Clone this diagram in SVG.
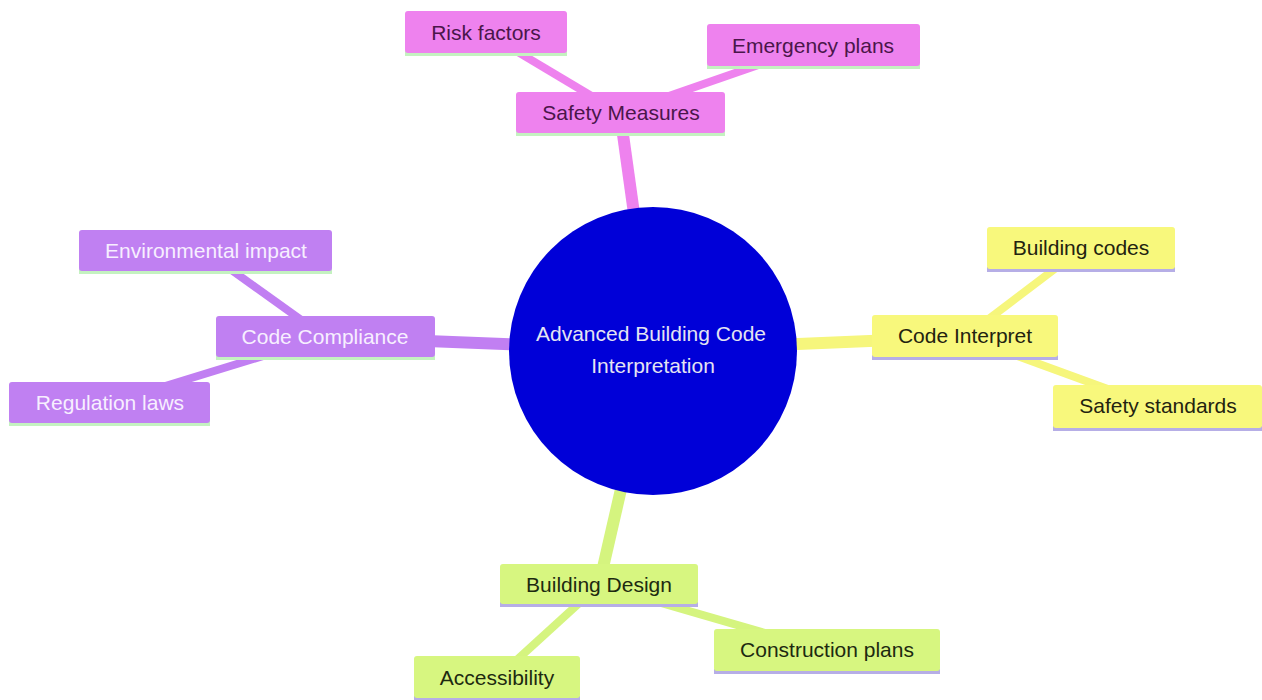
<svg xmlns="http://www.w3.org/2000/svg" width="1262" height="700" viewBox="0 0 1262 700">
<style>
text{font-family:"Liberation Sans",Arial,sans-serif;font-size:21px;text-anchor:middle}
.e{stroke-linecap:butt;fill:none}
.main{stroke-width:12}
.leaf{stroke-width:8}
.pk{stroke:#ee82ee}
.pu{stroke:#c17ff2}
.ye{stroke:#f6f67c}
.gr{stroke:#d5f47f}
.npk rect.b{fill:#ee82ee}
.npu rect.b{fill:#c080f2}
.nye rect.b{fill:#f8f87c}
.ngr rect.b{fill:#d7f680}
.npk text{fill:#4a164a}
.npu text{fill:#f7efff}
.nye text{fill:#232310}
.ngr text{fill:#1d2a10}
.lg{fill:#c4f2c0}
.lv{fill:#b6aee6}
</style>
<g id="connectors">
<line class="e main pk" x1="653" y1="350" x2="620" y2="113"/>
<line class="e main pu" x1="653" y1="350" x2="325" y2="337"/>
<line class="e main ye" x1="653" y1="350" x2="965" y2="337"/>
<line class="e main gr" x1="653" y1="350" x2="599" y2="585"/>
<line class="e leaf pk" x1="620" y1="113" x2="486" y2="33"/>
<line class="e leaf pk" x1="620" y1="113" x2="813" y2="46"/>
<line class="e leaf pu" x1="325" y1="337" x2="205" y2="251"/>
<line class="e leaf pu" x1="325" y1="337" x2="110" y2="403"/>
<line class="e leaf ye" x1="965" y1="337" x2="1081" y2="249"/>
<line class="e leaf ye" x1="965" y1="337" x2="1157" y2="407"/>
<line class="e leaf gr" x1="599" y1="585" x2="497" y2="678"/>
<line class="e leaf gr" x1="599" y1="585" x2="827" y2="651"/>
</g>
<g id="root">
<circle cx="653" cy="351" r="144" fill="#0000d8"/>
<text x="651" y="341" fill="#e4e4f2">Advanced Building Code</text>
<text x="653" y="373" fill="#e4e4f2">Interpretation</text>
</g>
<g id="safety-measures" class="npk">
<rect class="lg" x="516" y="131" width="209" height="5"/>
<rect class="b" x="516" y="92" width="209" height="41" rx="3"/>
<text x="621" y="120">Safety Measures</text>
</g>
<g id="risk-factors" class="npk">
<rect class="lg" x="405" y="51" width="162" height="5"/>
<rect class="b" x="405" y="11" width="162" height="42" rx="3"/>
<text x="486" y="40">Risk factors</text>
</g>
<g id="emergency-plans" class="npk">
<rect class="lg" x="707" y="64" width="213" height="5"/>
<rect class="b" x="707" y="24" width="213" height="42" rx="3"/>
<text x="813" y="53">Emergency plans</text>
</g>
<g id="code-compliance" class="npu">
<rect class="lg" x="216" y="355" width="219" height="5"/>
<rect class="b" x="216" y="316" width="219" height="41" rx="3"/>
<text x="325" y="344">Code Compliance</text>
</g>
<g id="environmental-impact" class="npu">
<rect class="lg" x="79" y="269" width="253" height="5"/>
<rect class="b" x="79" y="230" width="253" height="41" rx="3"/>
<text x="206" y="258">Environmental impact</text>
</g>
<g id="regulation-laws" class="npu">
<rect class="lg" x="9" y="421" width="201" height="5"/>
<rect class="b" x="9" y="382" width="201" height="41" rx="3"/>
<text x="110" y="410">Regulation laws</text>
</g>
<g id="code-interpret" class="nye">
<rect class="lv" x="872" y="355" width="186" height="5"/>
<rect class="b" x="872" y="315" width="186" height="42" rx="3"/>
<text x="965" y="343">Code Interpret</text>
</g>
<g id="building-codes" class="nye">
<rect class="lv" x="987" y="267" width="188" height="5"/>
<rect class="b" x="987" y="227" width="188" height="42" rx="3"/>
<text x="1081" y="255">Building codes</text>
</g>
<g id="safety-standards" class="nye">
<rect class="lv" x="1053" y="426" width="209" height="5"/>
<rect class="b" x="1053" y="385" width="209" height="43" rx="3"/>
<text x="1158" y="413">Safety standards</text>
</g>
<g id="building-design" class="ngr">
<rect class="lv" x="500" y="602" width="198" height="5"/>
<rect class="b" x="500" y="564" width="198" height="40" rx="3"/>
<text x="599" y="592">Building Design</text>
</g>
<g id="construction-plans" class="ngr">
<rect class="lv" x="714" y="669" width="226" height="5"/>
<rect class="b" x="714" y="629" width="226" height="42" rx="3"/>
<text x="827" y="657">Construction plans</text>
</g>
<g id="accessibility" class="ngr">
<rect class="lv" x="414" y="696" width="166" height="5"/>
<rect class="b" x="414" y="656" width="166" height="42" rx="3"/>
<text x="497" y="685">Accessibility</text>
</g>
</svg>
